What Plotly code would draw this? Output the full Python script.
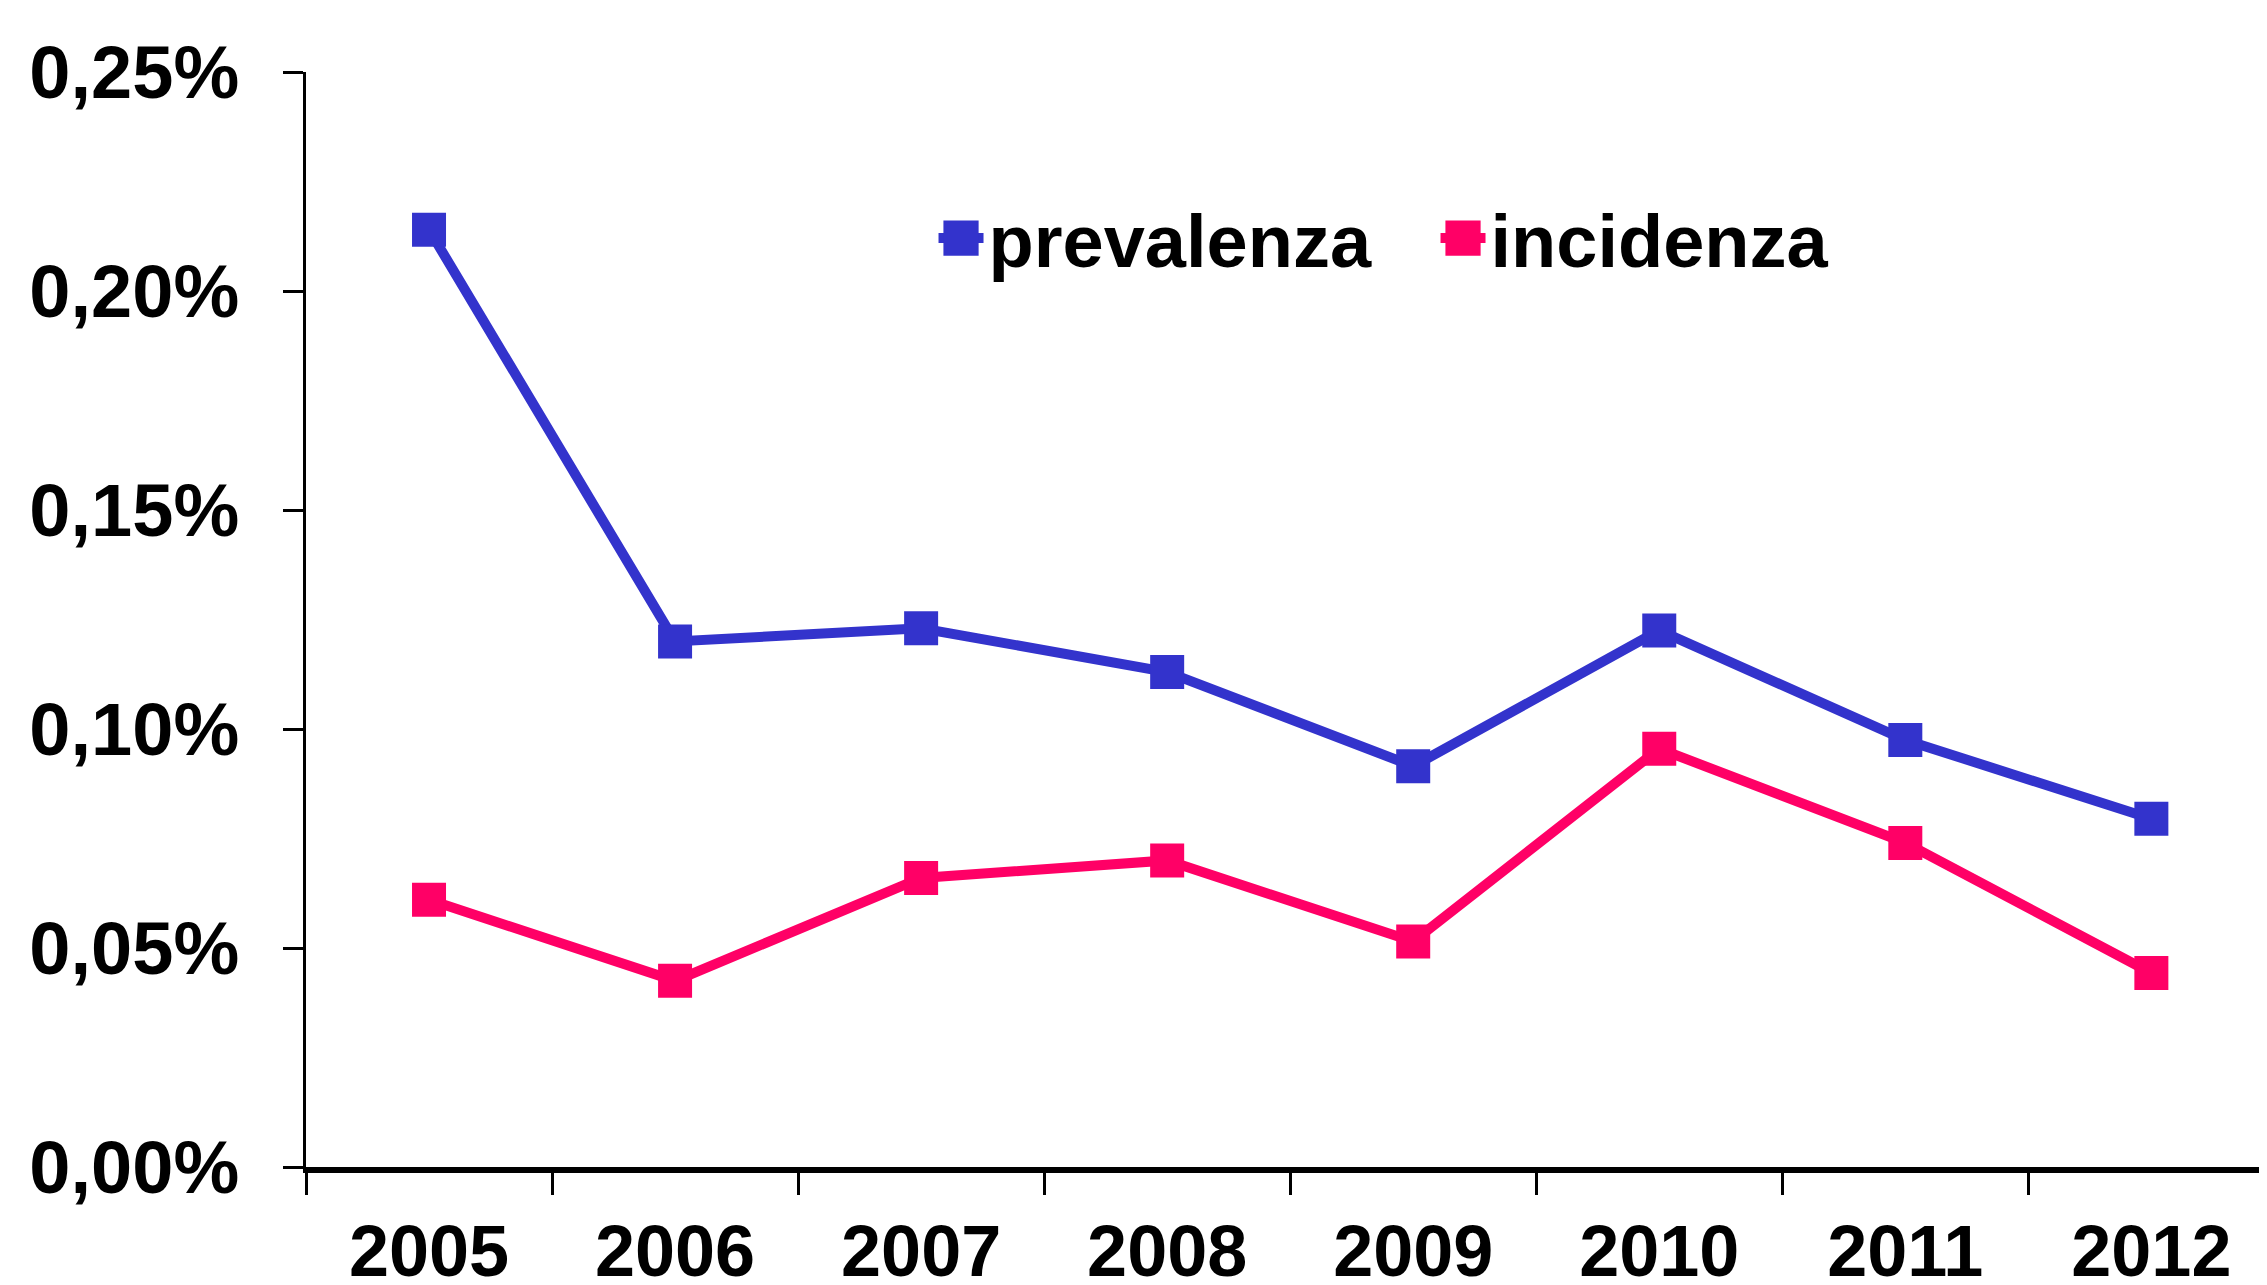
import plotly.graph_objects as go

years = ["2005", "2006", "2007", "2008", "2009", "2010", "2011", "2012"]
prevalenza = [0.214, 0.120, 0.123, 0.113, 0.0915, 0.1225, 0.0975, 0.0795]
incidenza = [0.061, 0.0425, 0.066, 0.070, 0.0515, 0.0955, 0.074, 0.0443]
y_ticks = [0, 0.05, 0.10, 0.15, 0.20, 0.25]
y_tick_labels = ["0,00%", "0,05%", "0,10%", "0,15%", "0,20%", "0,25%"]

BLUE = "#3333CC"
PINK = "#FF0066"
FONT = "Liberation Sans, Arial, sans-serif"

fig = go.Figure()
fig.add_trace(go.Scatter(x=years, y=prevalenza, name="prevalenza", mode="lines+markers",
                         line=dict(color=BLUE, width=10),
                         marker=dict(symbol="square", size=34, color=BLUE)))
fig.add_trace(go.Scatter(x=years, y=incidenza, name="incidenza", mode="lines+markers",
                         line=dict(color=PINK, width=10),
                         marker=dict(symbol="square", size=34, color=PINK)))

fig.update_layout(
    width=2259, height=1277,
    margin=dict(l=298, r=0, t=64, b=118, autoexpand=False),
    paper_bgcolor="white", plot_bgcolor="white",
    font=dict(family=FONT, size=74, color="black", weight=700),
    showlegend=True,
    legend=dict(orientation="h", x=0.32, y=0.848, xanchor="left", yanchor="middle",
                font=dict(family=FONT, size=74, color="black", weight=700),
                bgcolor="rgba(0,0,0,0)", itemwidth=45, entrywidth=442,
                entrywidthmode="pixels", tracegroupgap=0),
)
fig.update_xaxes(type="category", range=[-0.5, 7.47], tickson="boundaries",
                 automargin=False,
                 showline=True, linecolor="black", linewidth=6,
                 ticks="outside", ticklen=22, tickwidth=3, tickcolor="black",
                 showgrid=False, zeroline=False, ticklabelstandoff=17,
                 tickfont=dict(family=FONT, size=72, color="black", weight=700))
fig.update_yaxes(range=[0, 0.25], tickvals=y_ticks, ticktext=y_tick_labels,
                 automargin=False,
                 showline=True, linecolor="black", linewidth=3,
                 ticks="outside", ticklen=20, tickwidth=3, tickcolor="black",
                 showgrid=False, zeroline=False, ticklabelstandoff=29,
                 tickfont=dict(family=FONT, size=74, color="black", weight=700))

# enlarge the legend sample squares (plotly caps legend marker size at 16px)
post = """
var gd = document.getElementById('{plot_id}');
function bigLegend() {
  gd.querySelectorAll('g.legendpoints path').forEach(function (p) {
    var t = p.getAttribute('transform') || '';
    if (t.indexOf('scale') < 0) { p.setAttribute('transform', t + ' scale(2.2)'); }
  });
}
bigLegend();
setTimeout(bigLegend, 0);
gd.on('plotly_afterplot', bigLegend);
"""

fig.write_html("out.html", post_script=post)
